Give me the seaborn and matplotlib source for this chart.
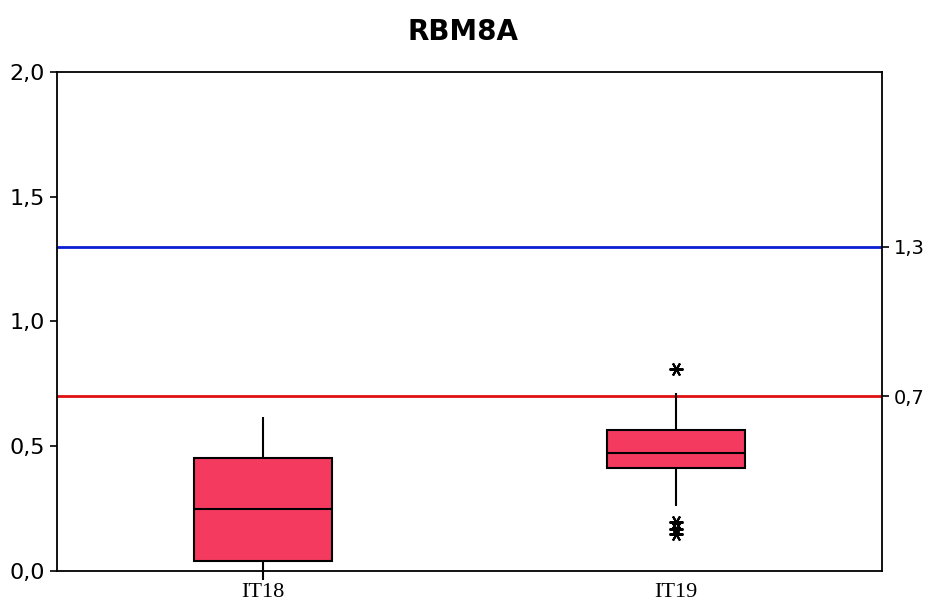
import matplotlib
matplotlib.use('Agg')
import matplotlib.pyplot as plt
import seaborn as sns
import pandas as pd
from matplotlib.ticker import FuncFormatter

# values (sorted)
it18 = [-0.035, 0.04, 0.248, 0.453, 0.617]
it19 = [0.15, 0.17, 0.196, 0.26, 0.413, 0.43, 0.45, 0.46, 0.473,
        0.50, 0.53, 0.55, 0.565, 0.60, 0.66, 0.713, 0.81]
groups = ['IT18', 'IT19']
ref_lines = [1.3, 0.7]
ref_colors = ['#0A1ED2', '#E01010']
title = 'RBM8A'

df = pd.DataFrame({
    'group': ['IT18'] * len(it18) + ['IT19'] * len(it19),
    'value': it18 + it19,
})

sns.set_style('white')
plt.rcParams['font.family'] = ['DejaVu Sans']
plt.rcParams['text.color'] = 'black'

fig = plt.figure(figsize=(9.27, 6.08), dpi=100)
ax = fig.add_axes([0.0615, 0.0609, 0.89, 0.8207])

sns.boxplot(data=df, x='group', y='value', order=groups, ax=ax,
            width=0.335, whis=1.4, showcaps=False,
            color='#F53A60', saturation=1,
            boxprops=dict(edgecolor='black', linewidth=1.5),
            medianprops=dict(color='black', linewidth=1.5),
            whiskerprops=dict(color='black', linewidth=1.5),
            flierprops=dict(marker=(6, 2, 30), markersize=10,
                            markeredgecolor='black', markeredgewidth=1.5))

for ln in ax.lines:
    ln.set_clip_on(False)

for y, c in zip(ref_lines, ref_colors):
    ax.axhline(y, color=c, linewidth=2, zorder=1)

ax.set_xlim(-0.5, 1.5)
ax.set_ylim(0, 2)
ax.set_yticks([0, 0.5, 1.0, 1.5, 2.0])
fmt = FuncFormatter(lambda v, p: f'{v:.1f}'.replace('.', ','))
ax.yaxis.set_major_formatter(fmt)
ax.set_xlabel('')
ax.set_ylabel('')
ax.tick_params(axis='y', direction='out', length=5, width=1.2,
               labelsize=16, color='black', labelcolor='black')
ax.tick_params(axis='x', direction='out', length=7, width=1.2, pad=2,
               labelsize=16, labelfontfamily='Liberation Serif',
               color='black', labelcolor='black')
for s in ax.spines.values():
    s.set_color('black')
    s.set_linewidth(1.3)

ax2 = ax.twinx()
ax2.set_ylim(0, 2)
ax2.set_yticks(ref_lines)
ax2.yaxis.set_major_formatter(fmt)
ax2.tick_params(axis='y', direction='out', length=5, width=1.2,
                labelsize=14, color='black', labelcolor='black')
for s in ax2.spines.values():
    s.set_visible(False)

fig.suptitle(title, fontsize=20, fontweight='bold', y=0.97, color='black')
fig.savefig('out.png', dpi=100)
